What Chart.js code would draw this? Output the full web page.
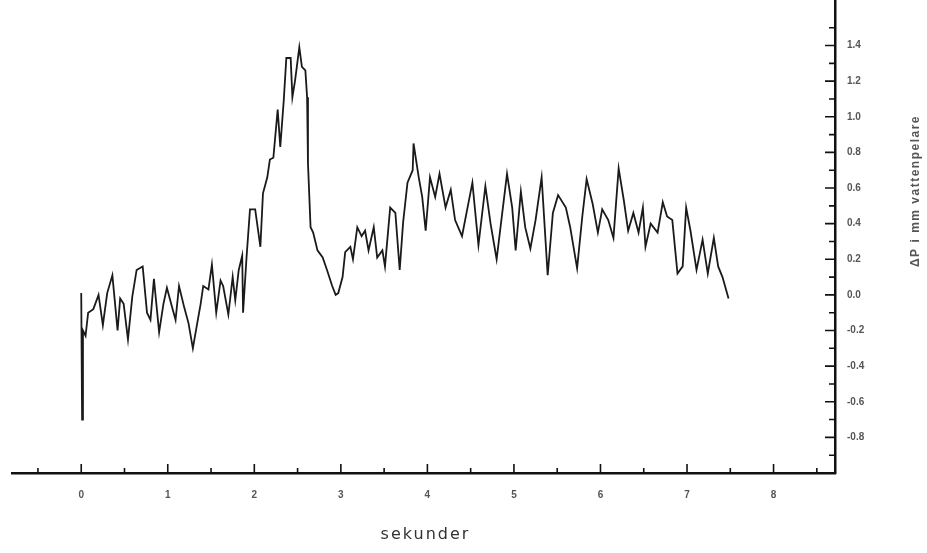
<!DOCTYPE html>
<html>
<head>
<meta charset="utf-8">
<script src="https://cdn.jsdelivr.net/npm/chart.js@4/dist/chart.umd.min.js"></script>
<style>
  html, body { margin: 0; padding: 0; background: #fff; overflow: hidden; }
  #wrap { width: 927px; height: 570px; margin-top: -17px; }
</style>
</head>
<body>
<div id="wrap"><canvas id="trace"></canvas></div>
<script>
// Signal (seconds, value)
const times = [0.00, 0.01, 0.02, 0.05, 0.08, 0.14, 0.20, 0.25, 0.30, 0.36, 0.42, 0.45, 0.49, 0.54, 0.59,
  0.64, 0.71, 0.76, 0.80, 0.84, 0.90, 0.95, 0.99, 1.05, 1.09, 1.13, 1.19, 1.24, 1.29, 1.34,
  1.38, 1.41, 1.47, 1.51, 1.56, 1.61, 1.64, 1.70, 1.75, 1.78, 1.82, 1.86, 1.87, 1.91, 1.95,
  2.01, 2.07, 2.10, 2.15, 2.18, 2.22, 2.27, 2.30, 2.34, 2.37, 2.42, 2.44, 2.47, 2.52, 2.55,
  2.59, 2.61, 2.62, 2.65, 2.68, 2.73, 2.79, 2.84, 2.90, 2.94, 2.97, 3.02, 3.05, 3.11, 3.14,
  3.19, 3.24, 3.28, 3.32, 3.38, 3.42, 3.48, 3.51, 3.57, 3.63, 3.68, 3.72, 3.77, 3.83, 3.84,
  3.90, 3.94, 3.98, 4.03, 4.09, 4.14, 4.21, 4.27, 4.32, 4.40, 4.46, 4.52, 4.59, 4.67, 4.73,
  4.80, 4.87, 4.92, 4.98, 5.02, 5.08, 5.13, 5.19, 5.25, 5.32, 5.39, 5.45, 5.51, 5.60, 5.65,
  5.73, 5.79, 5.84, 5.91, 5.97, 6.02, 6.09, 6.15, 6.21, 6.27, 6.32, 6.38, 6.44, 6.49, 6.52,
  6.58, 6.66, 6.72, 6.77, 6.83, 6.89, 6.95, 6.99, 7.04, 7.11, 7.18, 7.24, 7.31, 7.36, 7.41, 7.48];
const values = [0.01, -0.70, -0.20, -0.23, -0.10, -0.08, 0.00, -0.17, 0.01, 0.11, -0.20, -0.02, -0.05, -0.25, -0.01,
  0.14, 0.16, -0.10, -0.14, 0.09, -0.21, -0.05, 0.04, -0.07, -0.14, 0.05, -0.07, -0.16, -0.30, -0.16,
  -0.05, 0.05, 0.03, 0.17, -0.10, 0.08, 0.05, -0.11, 0.10, -0.03, 0.14, 0.22, -0.10, 0.21, 0.48,
  0.48, 0.27, 0.57, 0.66, 0.76, 0.77, 1.04, 0.83, 1.09, 1.33, 1.33, 1.11, 1.20, 1.39, 1.28,
  1.26, 1.11, 0.74, 0.38, 0.35, 0.25, 0.21, 0.14, 0.05, 0.00, 0.01, 0.10, 0.24, 0.27, 0.20,
  0.38, 0.33, 0.36, 0.25, 0.38, 0.21, 0.25, 0.16, 0.49, 0.46, 0.14, 0.41, 0.63, 0.70, 0.85,
  0.66, 0.55, 0.36, 0.66, 0.55, 0.68, 0.49, 0.59, 0.42, 0.33, 0.48, 0.63, 0.28, 0.61, 0.40,
  0.20, 0.48, 0.68, 0.49, 0.25, 0.58, 0.38, 0.26, 0.42, 0.66, 0.11, 0.46, 0.56, 0.49, 0.38,
  0.15, 0.44, 0.65, 0.51, 0.35, 0.48, 0.42, 0.32, 0.71, 0.53, 0.36, 0.46, 0.35, 0.49, 0.27,
  0.40, 0.35, 0.52, 0.44, 0.42, 0.12, 0.16, 0.49, 0.36, 0.14, 0.31, 0.12, 0.32, 0.16, 0.10, -0.02];

const xTicks = [0, 1, 2, 3, 4, 5, 6, 7, 8];
const xMinor = [-0.5, 0.5, 1.5, 2.5, 3.5, 4.5, 5.5, 6.5, 7.5, 8.5];
const yTicks = [-0.8, -0.6, -0.4, -0.2, 0.0, 0.2, 0.4, 0.6, 0.8, 1.0, 1.2, 1.4];
const yMinor = [-0.9, -0.7, -0.5, -0.3, -0.1, 0.1, 0.3, 0.5, 0.7, 0.9, 1.1, 1.3, 1.5];

const xTitle = 'sekunder';
const yTitle = 'ΔP i mm vattenpelare';

// inward tick marks plus both axis titles
const inwardTicks = {
    id: 'inwardTicks',
    afterDraw(chart) {
        const { ctx, chartArea, scales } = chart;
        const x = scales.x, y = scales.y;
        ctx.save();
        ctx.strokeStyle = '#111';
        ctx.lineWidth = 1.6;
        ctx.beginPath();
        xTicks.forEach(v => {
            const px = x.getPixelForValue(v);
            ctx.moveTo(px, chartArea.bottom); ctx.lineTo(px, chartArea.bottom - 9);
        });
        xMinor.forEach(v => {
            const px = x.getPixelForValue(v);
            ctx.moveTo(px, chartArea.bottom); ctx.lineTo(px, chartArea.bottom - 5);
        });
        yTicks.forEach(v => {
            const py = y.getPixelForValue(v);
            ctx.moveTo(chartArea.right, py); ctx.lineTo(chartArea.right - 10, py);
        });
        yMinor.forEach(v => {
            const py = y.getPixelForValue(v);
            ctx.moveTo(chartArea.right, py); ctx.lineTo(chartArea.right - 6, py);
        });
        ctx.stroke();

        ctx.fillStyle = '#333';
        ctx.textAlign = 'center';
        ctx.textBaseline = 'middle';
        ctx.font = '16px "DejaVu Sans", sans-serif';
        ctx.letterSpacing = '2px';
        ctx.fillText(xTitle, (chartArea.left + chartArea.right) / 2 + 2, chartArea.bottom + 62);

        ctx.translate(916, chartArea.top + 190);
        ctx.rotate(-Math.PI / 2);
        ctx.fillStyle = '#555';
        ctx.font = 'bold 12px "Liberation Sans", Arial, sans-serif';
        ctx.letterSpacing = '1.5px';
        ctx.fillText(yTitle, 0, 0);
        ctx.restore();
    }
};

new Chart(document.getElementById('trace'), {
    type: 'line',
    data: {
        datasets: [{
            data: times.map((t, i) => ({ x: t, y: values[i] })),
            borderColor: '#1a1a1a',
            borderWidth: 1.8,
            pointRadius: 0,
            tension: 0,
            fill: false
        }]
    },
    options: {
        responsive: true,
        maintainAspectRatio: false,
        animation: false,
        layout: { padding: { left: 12, top: 0, right: 0, bottom: 0 } },
        plugins: { legend: { display: false }, tooltip: { enabled: false } },
        scales: {
            x: {
                type: 'linear',
                min: -0.8,
                max: 8.71,
                afterBuildTicks: s => { s.ticks = xTicks.map(v => ({ value: v })); },
                afterFit: s => { s.height = 80; },
                grid: { display: false, drawTicks: false },
                border: { display: true, color: '#111', width: 2.5 },
                ticks: {
                    padding: 16,
                    color: '#555',
                    font: { family: '"Liberation Sans", Arial, sans-serif', size: 10, weight: 'bold' },
                    maxRotation: 0,
                    autoSkip: false
                }
            },
            y: {
                type: 'linear',
                position: 'right',
                min: -1.0,
                max: 1.65,
                afterBuildTicks: s => { s.ticks = yTicks.map(v => ({ value: v })); },
                afterFit: s => { s.width = 92; },
                grid: { display: false, drawTicks: false },
                border: { display: true, color: '#111', width: 2.5 },
                ticks: {
                    padding: 12,
                    color: '#555',
                    font: { family: '"Liberation Sans", Arial, sans-serif', size: 10, weight: 'bold' },
                    callback: v => v.toFixed(1),
                    autoSkip: false
                }
            }
        }
    },
    plugins: [inwardTicks]
});
</script>
</body>
</html>
